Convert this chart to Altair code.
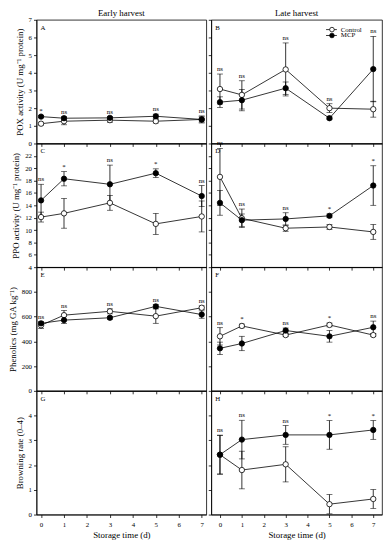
import altair as alt
import pandas as pd

days = [0, 1, 3, 5, 7]
groups = ["Control", "MCP"]

# Panel A: POX early
a_ctrl = [1.12, 1.26, 1.32, 1.26, 1.36]
a_ctrl_err = [0.08, 0.2, 0.12, 0.1, 0.2]
a_mcp = [1.52, 1.43, 1.45, 1.54, 1.36]
a_mcp_err = [0.06, 0.1, 0.08, 0.12, 0.15]
a_sig = ["*", "ns", "ns", "ns", "ns"]

# Panel B: POX late
b_ctrl = [3.08, 2.75, 4.19, 2.0, 1.94]
b_ctrl_err = [0.85, 0.8, 1.5, 0.25, 0.45]
b_mcp = [2.34, 2.45, 3.13, 1.43, 4.21]
b_mcp_err = [0.3, 0.6, 0.35, 0.08, 1.85]
b_sig = ["ns", "ns", "ns", "ns", "ns"]

# Panel C: PPO early
c_ctrl = [12.1, 12.7, 14.4, 11.0, 12.2]
c_ctrl_err = [0.8, 2.4, 1.2, 1.7, 2.5]
c_mcp = [14.8, 18.3, 17.4, 19.2, 15.5]
c_mcp_err = [2.6, 1.15, 3.1, 0.7, 1.7]
c_sig = ["ns", "*", "ns", "*", "ns"]

# Panel D: PPO late
d_ctrl = [18.6, 11.9, 10.3, 10.5, 9.7]
d_ctrl_err = [4.6, 1.5, 0.5, 0.4, 1.2]
d_mcp = [14.4, 11.6, 11.8, 12.3, 17.2]
d_mcp_err = [2.0, 1.0, 1.0, 0.3, 3.2]
d_sig = ["ns", "ns", "ns", "*", "*"]

# Panel E: Phenolics early
e_ctrl = [530, 612, 643, 604, 672]
e_ctrl_err = [25, 38, 20, 58, 15]
e_mcp = [546, 572, 591, 683, 617]
e_mcp_err = [15, 28, 12, 15, 30]
e_sig = ["ns", "ns", "ns", "ns", "ns"]

# Panel F: Phenolics late
f_ctrl = [441, 525, 451, 533, 451]
f_ctrl_err = [70, 15, 12, 15, 10]
f_mcp = [344, 383, 488, 441, 514]
f_mcp_err = [50, 58, 20, 47, 50]
f_sig = ["ns", "*", "ns", "*", "ns"]

# Panel H: Browning late
h_ctrl = [2.42, 1.8, 2.03, 0.42, 0.63]
h_ctrl_err = [0.78, 0.76, 0.71, 0.39, 0.38]
h_mcp = [2.42, 3.03, 3.22, 3.22, 3.42]
h_mcp_err = [0.79, 0.78, 0.38, 0.58, 0.38]
h_sig = ["ns", "ns", "ns", "*", "*"]

x_ticks = [0, 1, 2, 3, 4, 5, 6, 7]
FONT = "Liberation Serif"
H = 126


def make_df(ctrl, cerr, mcp, merr):
    rows = []
    for g, m, e in (("Control", ctrl, cerr), ("MCP", mcp, merr)):
        for d, v, s in zip(days, m, e):
            rows.append({"day": d, "group": g, "mean": v, "lo": v - s, "hi": v + s})
    return pd.DataFrame(rows)


def panel(letter, data, sig, ydom, yvals, ytitle, left, bottom, title=None, legend=False):
    xdom = [-0.2, 7.2] if left else [-0.4, 7.4]
    width = 173 if left else 174
    xtitle = "Storage time (d)" if bottom else None
    ytit = ytitle if left else None
    xaxis = alt.Axis(values=x_ticks, labels=bottom, tickSize=3, grid=False, labelFontSize=7,
                     titleFontSize=9, labelPadding=3, titlePadding=3, labelOverlap=False)
    yaxis = alt.Axis(values=yvals, labels=left, tickSize=3, grid=False, labelFontSize=7,
                     titleFontSize=9, labelPadding=2, titlePadding=4, labelOverlap=False)
    xs = alt.Scale(domain=xdom, nice=False, zero=False)
    ys = alt.Scale(domain=ydom, nice=False, zero=False)

    def X(field):
        return alt.X(field, scale=xs, axis=xaxis, title=xtitle)

    def Y(field):
        return alt.Y(field, scale=ys, axis=yaxis, title=ytit)

    layers = []
    if data is not None:
        base = alt.Chart(data)
        line = base.mark_line(color="black", strokeWidth=0.8).encode(
            x=X("day:Q"), y=Y("mean:Q"), detail="group:N",
        )
        err = base.mark_errorbar(ticks={"size": 6}, color="black", thickness=0.8).encode(
            x=X("day:Q"), y=Y("lo:Q"), y2="hi:Q",
        )
        pts = base.mark_circle(size=30, stroke="black", strokeWidth=0.8, opacity=1).encode(
            x=X("day:Q"), y=Y("mean:Q"),
            fill=alt.Fill("group:N", scale=alt.Scale(domain=groups, range=["white", "black"]), legend=None),
        )
        his = data.groupby("day")["hi"].max().reindex(days).tolist()
        top = ydom[1] - (ydom[1] - ydom[0]) * 0.035
        ann = pd.DataFrame({"day": days, "label": sig, "ypos": [min(h, top) for h in his]})
        txt = alt.Chart(ann).mark_text(baseline="bottom", dy=-2, fontSize=7, font=FONT, color="black").encode(
            x=X("day:Q"), y=Y("ypos:Q"), text="label:N"
        )
        layers += [line, err, pts, txt]
    else:
        dummy = pd.DataFrame({"day": [0], "mean": [0]})
        layers.append(alt.Chart(dummy).mark_point(opacity=0).encode(
            x=X("day:Q"), y=Y("mean:Q"),
        ))

    lab = alt.Chart(pd.DataFrame({"t": [letter]})).mark_text(
        align="left", baseline="top", fontSize=7, font=FONT, color="black"
    ).encode(x=alt.value(4), y=alt.value(4), text="t:N")
    layers.append(lab)

    if title:
        layers.append(alt.Chart(pd.DataFrame({"t": [title]})).mark_text(
            align="center", baseline="middle", fontSize=9, font=FONT, color="black"
        ).encode(x=alt.value(width / 2), y=alt.value(-7), text="t:N"))

    if legend:
        for i, (g, fill) in enumerate((("Control", "white"), ("MCP", "black"))):
            yy = 10 + 6 * i
            lg = pd.DataFrame({"t": [g]})
            layers.append(alt.Chart(lg).mark_rule(color="black", strokeWidth=0.8).encode(
                x=alt.value(117), x2=alt.value(128), y=alt.value(yy)))
            layers.append(alt.Chart(lg).mark_circle(size=22, fill=fill, stroke="black",
                                                    strokeWidth=0.8, opacity=1).encode(
                x=alt.value(123), y=alt.value(yy)))
            layers.append(alt.Chart(lg).mark_text(align="left", baseline="middle", fontSize=7,
                                                  font=FONT, color="black").encode(
                x=alt.value(132), y=alt.value(yy), text="t:N"))

    return alt.layer(*layers).properties(width=width, height=H)


pox_t = "POX activity (U mg\u207b\u00b9 protein)"
ppo_t = "PPO activity (U mg\u207b\u00b9 protein)"
phe_t = "Phenolics (mg GA kg\u207b\u00b9)"
br_t = "Browning rate  (0\u20134)"

pox_v = [0, 1, 2, 3, 4, 5, 6, 7]
ppo_v = [4, 6, 8, 10, 12, 14, 16, 18, 20, 22]
phe_v = [0, 200, 400, 600, 800]
br_v = [0, 1, 2, 3, 4]

A = panel("A", make_df(a_ctrl, a_ctrl_err, a_mcp, a_mcp_err), a_sig, [0, 7], pox_v, pox_t, True, False, "Early harvest")
B = panel("B", make_df(b_ctrl, b_ctrl_err, b_mcp, b_mcp_err), b_sig, [0, 7], pox_v, pox_t, False, False, "Late harvest", legend=True)
C = panel("C", make_df(c_ctrl, c_ctrl_err, c_mcp, c_mcp_err), c_sig, [4, 24], ppo_v, ppo_t, True, False)
D = panel("D", make_df(d_ctrl, d_ctrl_err, d_mcp, d_mcp_err), d_sig, [4, 24], ppo_v, ppo_t, False, False)
E = panel("E", make_df(e_ctrl, e_ctrl_err, e_mcp, e_mcp_err), e_sig, [0, 1000], phe_v, phe_t, True, False)
F = panel("F", make_df(f_ctrl, f_ctrl_err, f_mcp, f_mcp_err), f_sig, [0, 1000], phe_v, phe_t, False, False)
G = panel("G", None, None, [0, 5], br_v, br_t, True, True)
Hh = panel("H", make_df(h_ctrl, h_ctrl_err, h_mcp, h_mcp_err), h_sig, [0, 5], br_v, br_t, False, True)

leftcol = alt.vconcat(A, C, E, G, spacing=0, bounds="flush")
rightcol = alt.vconcat(B, D, F, Hh, spacing=0, bounds="flush")

chart = alt.hconcat(leftcol, rightcol, spacing=0).properties(
    padding={"left": 0, "top": -5, "right": 0, "bottom": 0}
).configure(font=FONT).configure_view(
    stroke="black", strokeWidth=0.8
).configure_axis(
    domainColor="black", domainWidth=0.8, tickColor="black", tickWidth=0.8,
    labelColor="black", titleColor="black", labelFont=FONT, titleFont=FONT,
    titleFontWeight="normal"
)

chart.save("out.html", embed_options={"renderer": "svg", "actions": False})
